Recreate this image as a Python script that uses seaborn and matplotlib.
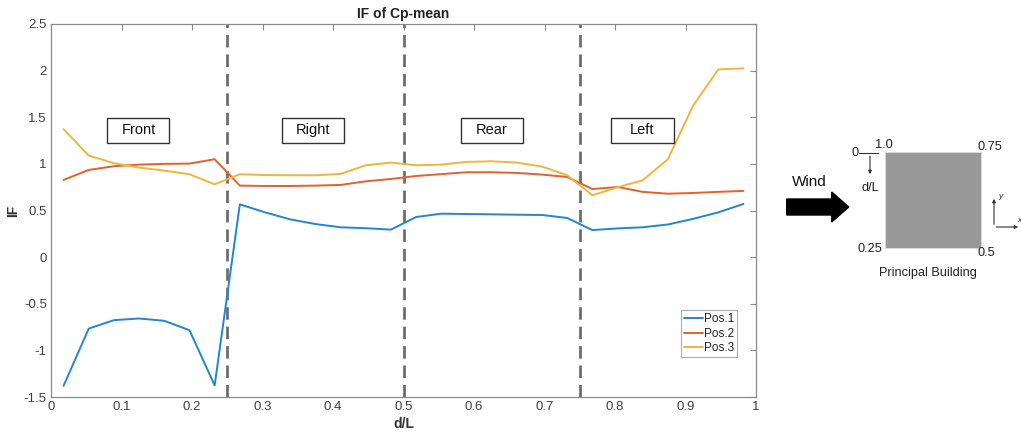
import numpy as np
import pandas as pd
import matplotlib
matplotlib.use("Agg")
import matplotlib.pyplot as plt
import matplotlib.patches as mpatches
import seaborn as sns

# d/L positions: 7 taps per face, 4 faces
d_over_L = [(k + 0.5) / 28 for k in range(28)]

pos1 = [-1.38, -0.766, -0.676, -0.658, -0.683, -0.784, -1.375,
        0.566, 0.48, 0.405, 0.355, 0.32, 0.31, 0.295,
        0.43, 0.466, 0.462, 0.459, 0.455, 0.452, 0.42,
        0.29, 0.308, 0.32, 0.35, 0.41, 0.48, 0.57]
pos2 = [0.828, 0.935, 0.975, 0.992, 1.0, 1.003, 1.05,
        0.767, 0.763, 0.763, 0.767, 0.774, 0.813, 0.838,
        0.87, 0.89, 0.91, 0.91, 0.903, 0.885, 0.86,
        0.73, 0.752, 0.70, 0.68, 0.688, 0.70, 0.71]
pos3 = [1.372, 1.089, 1.007, 0.96, 0.928, 0.889, 0.781,
        0.889, 0.88, 0.878, 0.878, 0.892, 0.985, 1.014,
        0.985, 0.992, 1.021, 1.028, 1.014, 0.971, 0.878,
        0.663, 0.749, 0.824, 1.05, 1.623, 2.013, 2.024]

series_names = ["Pos.1", "Pos.2", "Pos.3"]
face_names = ["Front", "Right", "Rear", "Left"]
face_centres = [0.124, 0.371, 0.625, 0.839]
face_bounds = [0.25, 0.5, 0.75]

colors = {"Pos.1": "#2385D3", "Pos.2": "#E2612E", "Pos.3": "#F0B53A"}

df = pd.DataFrame({
    "d/L": d_over_L * 3,
    "IF": pos1 + pos2 + pos3,
    "series": np.repeat(series_names, 28),
})

sns.set_style("white")
plt.rcParams["font.family"] = ["Liberation Sans", "DejaVu Sans"]
axis_grey = "#8a8a8a"
text_grey = "#404040"

fig = plt.figure(figsize=(10.21, 4.33), dpi=100)
ax = fig.add_axes([51 / 1021, 1 - 397 / 433, 705 / 1021, 373 / 433])

sns.lineplot(data=df, x="d/L", y="IF", hue="series", palette=colors,
             linewidth=1.4, ax=ax, legend=True)

for xb in face_bounds:
    ax.axvline(xb, color="#6e6e6e", linestyle=(0, (4.5, 2.5)), linewidth=2.0, zorder=1)

ax.set_xlim(0, 1)
ax.set_ylim(-1.5, 2.5)
ax.set_xticks(np.arange(0, 1.01, 0.1))
ax.set_xticklabels(["0", "0.1", "0.2", "0.3", "0.4", "0.5", "0.6", "0.7", "0.8", "0.9", "1"])
ax.set_yticks(np.arange(-1.5, 2.51, 0.5))
ax.set_yticklabels(["-1.5", "-1", "-0.5", "0", "0.5", "1", "1.5", "2", "2.5"])
ax.tick_params(direction="in", length=4, width=0.8, colors=axis_grey,
               labelcolor=text_grey, labelsize=9.5, top=True, right=True, pad=3)
for sp in ax.spines.values():
    sp.set_visible(True)
    sp.set_color(axis_grey)
    sp.set_linewidth(0.9)

ax.set_title("IF of Cp-mean", fontsize=10, fontweight="bold", color="#222222", pad=4)
ax.set_xlabel("d/L", fontsize=10, fontweight="bold", color="#333333", labelpad=3)
ax.set_ylabel("IF", fontsize=10, fontweight="bold", color="#333333", labelpad=3)

# face labels in fixed-size boxes
box_w, box_h = 0.088, 0.27
for name, xc in zip(face_names, face_centres):
    ax.add_patch(mpatches.Rectangle((xc - box_w / 2, 1.358 - box_h / 2), box_w, box_h,
                                    facecolor="white", edgecolor="#333333", linewidth=1.0, zorder=4))
    ax.text(xc, 1.358, name, ha="center", va="center", fontsize=10.5, color="#111111", zorder=5)

leg = ax.legend(loc="lower right", bbox_to_anchor=(0.973, 0.107), fontsize=8.5, frameon=True,
                fancybox=False, handlelength=1.6, handletextpad=0.1, borderpad=0.25,
                labelspacing=0.2, borderaxespad=0.0)
leg.get_frame().set_edgecolor("#9a9a9a")
leg.get_frame().set_linewidth(0.8)
for t in leg.get_texts():
    t.set_color("#222222")

# building sketch on the right, in pixel coordinates
ov = fig.add_axes([0, 0, 1, 1])
ov.set_xlim(0, 1021)
ov.set_ylim(433, 0)
ov.axis("off")

ov.add_patch(mpatches.FancyArrow(786.7, 207, 45, 0, width=16, head_width=30, head_length=17,
                                 length_includes_head=False, color="black"))
ov.text(809, 182, "Wind", ha="center", va="center", fontsize=11, color="#111111")

ov.add_patch(mpatches.Rectangle((885, 152.3), 95.7, 95.4, facecolor="#999999",
                                edgecolor="#dddddd", linewidth=0.6))
fs = 9.2
ov.text(884, 145, "1.0", ha="center", va="center", fontsize=fs, color="#222222")
ov.text(990, 146.5, "0.75", ha="center", va="center", fontsize=fs, color="#222222")
ov.text(870, 249, "0.25", ha="center", va="center", fontsize=fs, color="#222222")
ov.text(986, 253, "0.5", ha="center", va="center", fontsize=fs, color="#222222")
ov.text(928, 273, "Principal Building", ha="center", va="center", fontsize=fs, color="#222222")

ov.text(855, 153.5, "0", ha="center", va="center", fontsize=fs, color="#222222")
ov.plot([859, 878], [153.3, 153.3], color="#333333", linewidth=0.8)
ov.annotate("", xy=(870, 177), xytext=(870, 153.3),
            arrowprops=dict(arrowstyle="-|>", color="#333333", lw=0.8, mutation_scale=5))
ov.text(870, 188, "d/L", ha="center", va="center", fontsize=fs, color="#222222")

ov.annotate("", xy=(994, 196), xytext=(994, 227),
            arrowprops=dict(arrowstyle="-|>", color="#333333", lw=0.8, mutation_scale=5))
ov.annotate("", xy=(1021, 227), xytext=(993.5, 227),
            arrowprops=dict(arrowstyle="-|>", color="#333333", lw=0.8, mutation_scale=5))
ov.text(1001, 196, "y", ha="center", va="center", fontsize=6, style="italic", color="#222222")
ov.text(1019, 221, "x", ha="center", va="center", fontsize=6, style="italic", color="#222222")

fig.savefig("out.png", dpi=100)
